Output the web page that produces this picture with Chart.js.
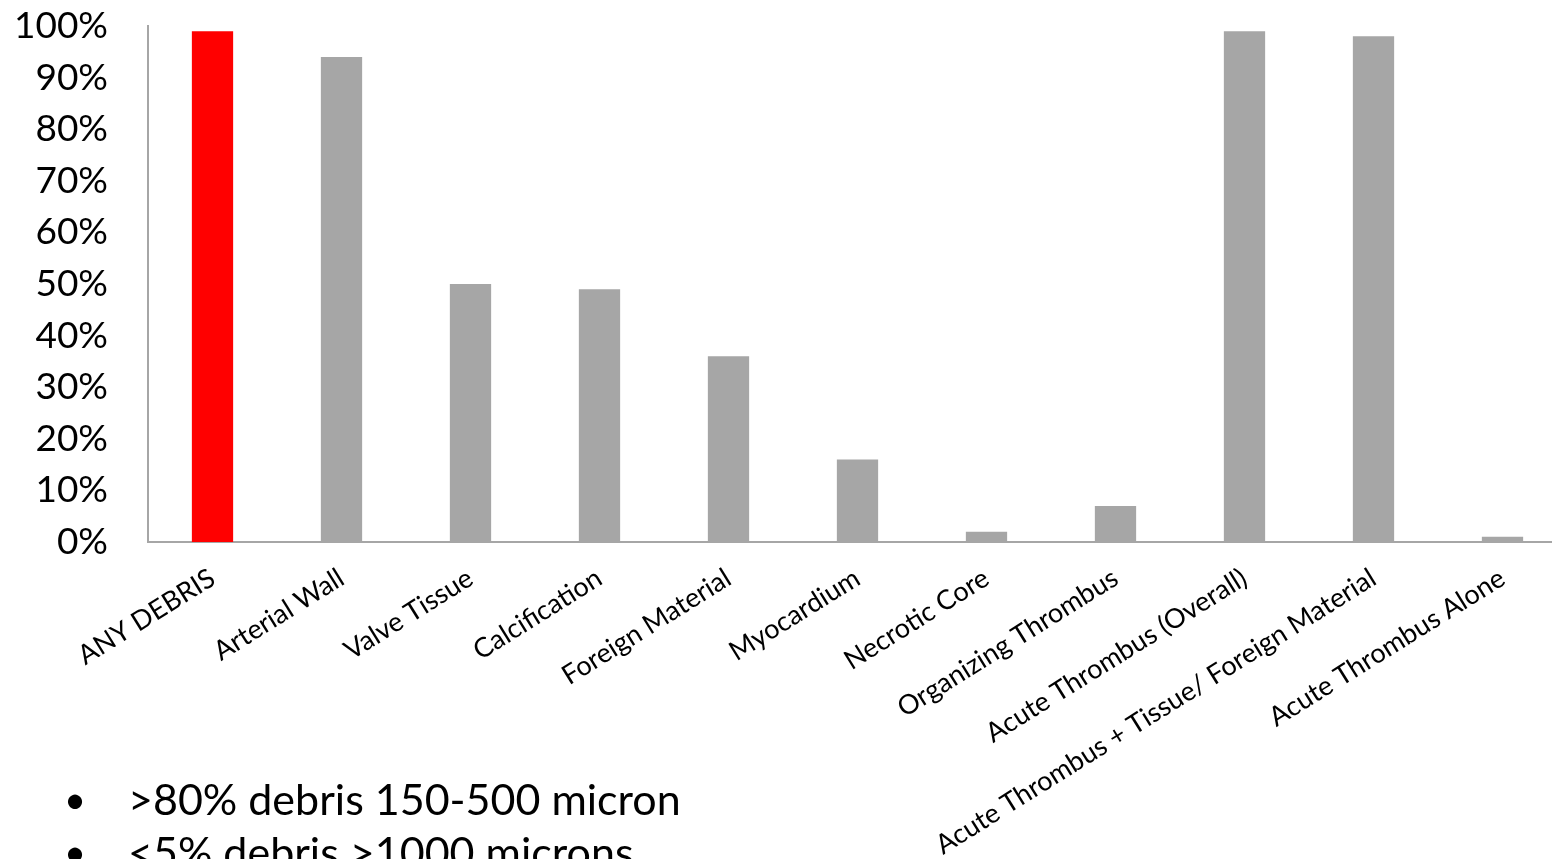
<!DOCTYPE html>
<html>
<head>
<meta charset="utf-8">
<script src="https://cdn.jsdelivr.net/npm/chart.js@4"></script>
<style>
  html, body { margin: 0; padding: 0; background: #fff; overflow: hidden; width: 1552px; height: 859px; }
  #wrap { position: absolute; left: 0; top: 0; width: 1567px; height: 859px; }
  #notes { position: absolute; left: 0; top: 772px; margin: 0; padding: 0; list-style: none;
           font-family: Lato, "Open Sans", sans-serif; font-size: 43px; color: #000; line-height: 53px; }
  #notes li { position: relative; padding-left: 128px; white-space: nowrap; }
  #notes li::before { content: "\2022"; position: absolute; left: 64px; font-size: 38px; }
</style>
</head>
<body>
<div id="wrap"><canvas id="c" width="1567" height="859"></canvas></div>
<ul id="notes">
  <li>&gt;80% debris 150-500 micron</li>
  <li>&lt;5% debris &gt;1000 microns</li>
</ul>
<script>
// Debris types found, share of patients (%)
const categories = [
  'ANY DEBRIS', 'Arterial Wall', 'Valve Tissue', 'Calcification', 'Foreign Material',
  'Myocardium', 'Necrotic Core', 'Organizing Thrombus', 'Acute Thrombus (Overall)',
  'Acute Thrombus + Tissue/ Foreign Material', 'Acute Thrombus Alone'
];
const percentages = [99, 94, 50, 49, 36, 16, 2, 7, 99, 98, 1];
const yTicks = [0, 10, 20, 30, 40, 50, 60, 70, 80, 90, 100];

const barColors = categories.map((c, i) => i === 0 ? '#FF0000' : '#A6A6A6');
const FONT = 'Lato, "Open Sans", sans-serif';

new Chart(document.getElementById('c'), {
  type: 'bar',
  data: {
    labels: categories,
    datasets: [{
      data: percentages,
      backgroundColor: barColors,
      borderWidth: 0,
      categoryPercentage: 1,
      barPercentage: 0.32
    }]
  },
  options: {
    responsive: false,
    animation: false,
    layout: { padding: { top: 26, right: 0, left: 0, bottom: 0 } },
    plugins: { legend: { display: false }, tooltip: { enabled: false } },
    scales: {
      x: {
        grid: { display: false, drawTicks: false },
        border: { display: true, color: '#A6A6A6', width: 2 },
        ticks: {
          autoSkip: false, minRotation: 32, maxRotation: 32, padding: 20,
          color: '#000', font: { family: FONT, size: 27 }
        },
        afterFit: s => { s.height = 859 - 542; s.paddingLeft = 0; s.paddingRight = 0; }
      },
      y: {
        min: 0, max: 100,
        grid: { display: false, drawTicks: false },
        border: { display: true, color: '#A6A6A6', width: 2 },
        afterBuildTicks: s => { s.ticks = yTicks.map(v => ({ value: v })); },
        ticks: {
          padding: 40, color: '#000', font: { family: FONT, size: 37 },
          callback: v => v + '%'
        },
        afterFit: s => { s.width = 148; s.paddingTop = 0; s.paddingBottom = 0; }
      }
    }
  }
});
</script>
</body>
</html>
